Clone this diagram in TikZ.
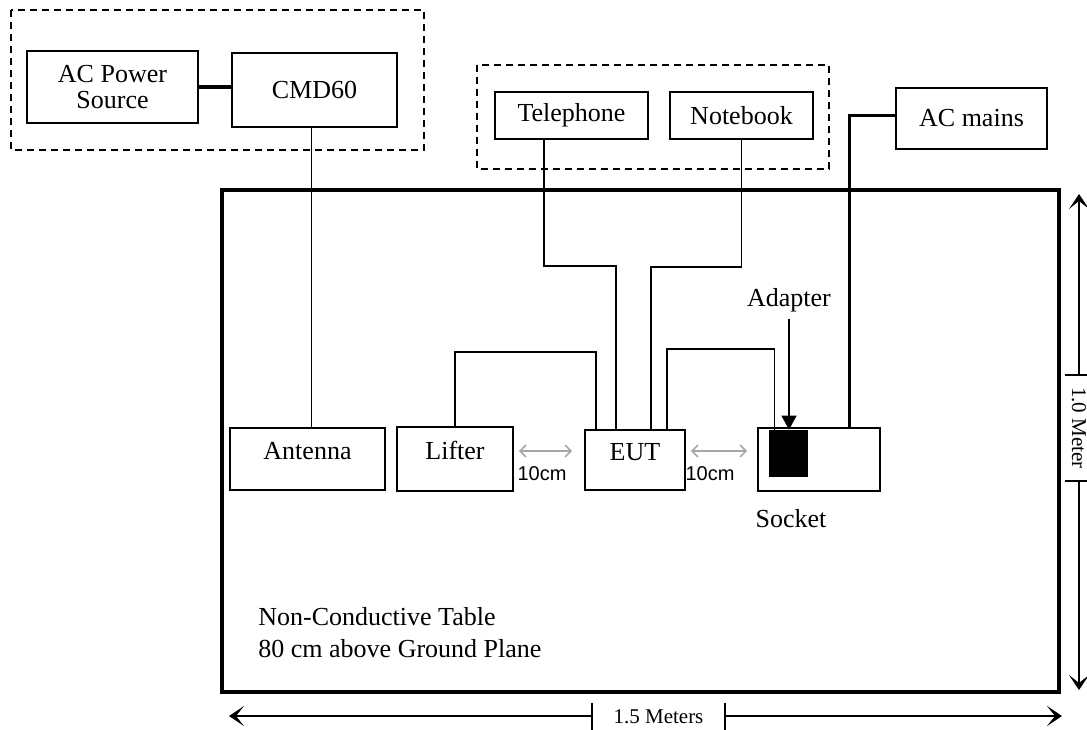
\documentclass[tikz,border=0pt]{standalone}
\usepackage{fontspec}
\setmainfont{Liberation Serif}
\newfontfamily\arialfont{Liberation Sans}
\usetikzlibrary{arrows.meta,calc}

\begin{document}
\begin{tikzpicture}[x=0.5pt, y=-0.5pt,
   box/.style={draw, line width=0.8pt, inner sep=0pt, align=center, font=\fontsize{13}{13}\selectfont},
   lowbox/.style={box, text depth=8.5pt},
   wire/.style={line width=0.85pt},
   mainswire/.style={line width=1.6pt},
   group/.style={draw, line width=0.8pt, dash pattern=on 3.5pt off 2.5pt},
   gap/.style={draw=gray!70, line width=0.8pt, {Straight Barb[length=3pt,width=6pt]}-{Straight Barb[length=3pt,width=6pt]}},
   dimtip/.style={line width=0.9pt, -{Stealth[length=7.5pt,width=10pt,inset=4pt]}},
   lbl/.style={font=\fontsize{13}{16}\selectfont},
   cmlbl/.style={font=\arialfont\fontsize{10}{12}\selectfont},
   dimlbl/.style={font=\fontsize{10.5}{12}\selectfont, minimum height=10pt}]
  \useasboundingbox (0,0) rectangle (1087,729);

  % support equipment outside the table
  \draw[group] (11,10) rectangle (424,150);
  \node[box, minimum width=85.5pt, minimum height=36pt] (acsrc) at (112.5,87) {AC Power\\Source};
  \node[box, minimum width=82.5pt, minimum height=37pt] (cmd) at (314.5,90) {CMD60};
  \draw[mainswire] (acsrc.east) -- (acsrc.east -| cmd.west);

  \draw[group] (477,65) rectangle (829,169);
  \node[box, minimum width=76.5pt, minimum height=23.5pt] (tel) at (571.5,115.5) {Telephone};
  \node[box, minimum width=71.5pt, minimum height=23.5pt] (note) at (741.5,115.5) {Notebook};
  \node[box, minimum width=75.5pt, minimum height=30.5pt] (mains) at (971.5,118.5) {AC mains};

  % table
  \draw[line width=1.7pt] (222,190) rectangle (1059,692);
  \node[lowbox, minimum width=77.5pt, minimum height=31pt] (ant) at (307.5,459) {Antenna};
  \node[lowbox, minimum width=58pt, minimum height=32pt] (lifter) at (455,459) {Lifter};
  \node[lowbox, minimum width=50pt, minimum height=30pt] (eut) at (635,460) {EUT};
  \node[box, minimum width=61pt, minimum height=31.5pt] (socket) at (819,459.5) {};
  \node[draw, fill=black, inner sep=0pt, minimum width=19pt, minimum height=23pt] (adapter) at (788,453) {};

  \node[lbl] (lbladapter) at (789,300) {Adapter};
  \node[lbl] (lblsocket) at (791,519) {Socket};
  \node[lbl, align=left, anchor=north west, inner sep=0pt] (tbltxt) at (258,607) {Non-Conductive Table\\80 cm above Ground Plane};

  % cables
  \draw[wire] ($(cmd.south)+(-3,0)$) -- ($(cmd.south |- ant.north)+(-3,0)$);
  \draw[wire] (lifter.north) -- ++(0,-74) -| ($(eut.north west)+(12,0)$);
  \draw[wire] ($(tel.south west)+(50,0)$) |- ($(eut.north west)+(32,-163)$) -- ($(eut.north west)+(32,0)$);
  \draw[wire] ($(eut.north west)+(48,0)$) -- ($(eut.north west)+(48,0)$ |- tel.south);
  \draw[wire] (note.south) |- ($(eut.north west)+(67,-162)$) -- ($(eut.north west)+(67,0)$);
  \draw[wire] ($(eut.north west)+(83,0)$) -- ++(0,-80) -| ($(adapter.north west)+(6,0)$);
  \draw[mainswire] ($(mains.west)+(0,-3)$) -| ($(socket.north west)+(92,0)$);
  \draw[wire, -{Triangle[length=7pt,width=7.5pt]}] (lbladapter.south) -- (lbladapter.south |- adapter.north);

  % distances
  \draw[gap] ($(lifter.east)+(5,-8)$) -- ($(eut.west)+(-12,-9)$);
  \draw[gap] ($(eut.east)+(5,-9)$) -- ($(socket.west)+(-10,-8.5)$);
  \node[cmlbl] (gapa) at (542,474) {10cm};
  \node[cmlbl] (gapb) at (710,474) {10cm};

  % table size
  \coordinate (wleft) at (229,716);
  \coordinate (wright) at (1062,716);
  \node[dimlbl, inner xsep=10.5pt] (wlbl) at (658.5,717) {1.5 Meters};
  \draw[dimtip] (wlbl.west |- wleft) -- (wleft);
  \draw[dimtip] (wlbl.east |- wright) -- (wright);
  \draw[wire] (wlbl.north west) -- (wlbl.south west);
  \draw[wire] (wlbl.north east) -- (wlbl.south east);

  \coordinate (htop) at (1079,194);
  \coordinate (hbot) at (1079,690);
  \node[dimlbl, rotate=-90, inner xsep=6pt] (hlbl) at (1079,428) {1.0 Meter};
  \draw[dimtip] (hlbl.west) -- (htop);
  \draw[dimtip] (hlbl.east) -- (hbot);
  \draw[wire] (hlbl.north west) -- (hlbl.south west);
  \draw[wire] (hlbl.north east) -- (hlbl.south east);
\end{tikzpicture}
\end{document}
